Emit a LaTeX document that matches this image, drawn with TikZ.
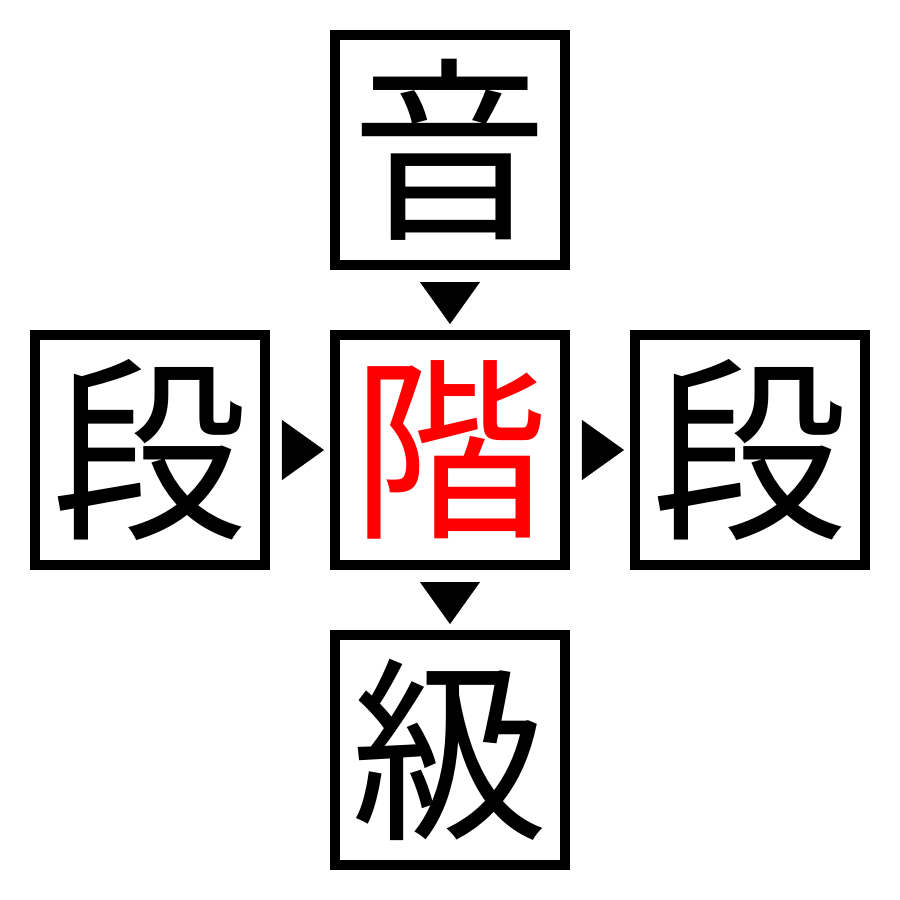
\documentclass[tikz,border=0pt]{standalone}
\usepackage{fontspec}
\newfontfamily\cjk{Noto Sans CJK JP}
\usetikzlibrary {arrows.meta,positioning}

\begin{document}
\begin{tikzpicture}[node distance= 6mm]
      \useasboundingbox (-4.5,-4.5) rectangle (4.5,4.5);
      \begin{scope}[every node/.style={draw,line width= 1mm,minimum size= 23mm,inner sep= 0pt,
          font= \cjk\fontsize{56}{56}\selectfont}]
        \node (M) [text= red] {階};
        \node (T) [above= of M] {音};
        \node (L) [left= of M] {段};
        \node (R) [right= of M] {段};
        \node (B) [below= of M] {級};
      \end{scope}
      \begin{scope}
        [every edge/.style={draw= black, line width= 0.1pt,
        -{Triangle[width= 6mm,length= 4.2mm]},
        shorten <= 1.2mm, shorten >= 0.6mm}]
        \path (T) edge (M);
        \path (L) edge (M);
        \path (M) edge (R);
        \path (M) edge (B);
      \end{scope}
    \end{tikzpicture}
\end{document}
